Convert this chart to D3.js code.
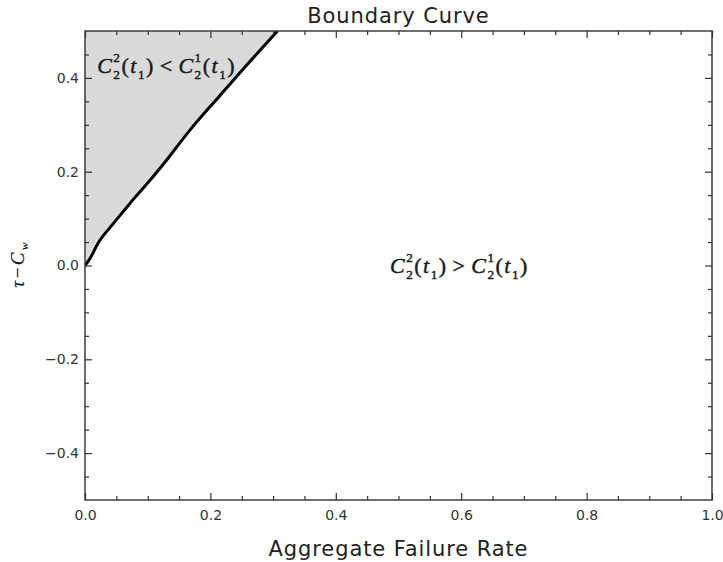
<!DOCTYPE html>
<html>
<head>
<meta charset="utf-8">
<script src="https://cdn.jsdelivr.net/npm/d3@7"></script>
<style>
  body { margin: 0; background: #fff; }
  svg { display: block; }
  .tick text { font-family: "DejaVu Sans", sans-serif; font-size: 14px; fill: #333; }
  .label { font-family: "DejaVu Sans", sans-serif; font-size: 21px; letter-spacing: 0.9px; fill: #222; }
</style>
</head>
<body>
<script>
// boundary curve (aggregate failure rate -> tau - c_w)
const curveX = [0, 0.008, 0.021, 0.043, 0.061, 0.077, 0.098, 0.120, 0.135, 0.167, 0.215, 0.263, 0.307]
const curveY = [0, 0.015, 0.048, 0.086, 0.115, 0.141, 0.173, 0.208, 0.233, 0.288, 0.362, 0.435, 0.500]

const xTicks = [0, 0.2, 0.4, 0.6, 0.8, 1.0]
const yTicks = [-0.4, -0.2, 0, 0.2, 0.4]
const xDomain = [0, 1]
const yDomain = [-0.5, 0.5]

const title = 'Boundary Curve'
const xLabel = 'Aggregate Failure Rate'

// formula pieces: plain/italic glyphs, stacked super/subscripts
const regionAbove = [
  { t: 'C', i: true }, { sup: '2', sub: '2' }, { t: '(' }, { t: 't', i: true }, { sub: '1' }, { t: ')' },
  { t: '<', pad: true },
  { t: 'C', i: true }, { sup: '1', sub: '2' }, { t: '(' }, { t: 't', i: true }, { sub: '1' }, { t: ')' }
]
const regionBelow = [
  { t: 'C', i: true }, { sup: '2', sub: '2' }, { t: '(' }, { t: 't', i: true }, { sub: '1' }, { t: ')' },
  { t: '>', pad: true },
  { t: 'C', i: true }, { sup: '1', sub: '2' }, { t: '(' }, { t: 't', i: true }, { sub: '1' }, { t: ')' }
]
const yLabel = [{ t: 'τ', i: true }, { t: '−' }, { t: 'C', i: true }, { sub: 'w', i: true }]

const width = 723, height = 562
const margin = { top: 31, right: 11, bottom: 62, left: 85 }
const w = width - margin.left - margin.right
const h = height - margin.top - margin.bottom

const svg = d3.select('body').append('svg')
    .attr('width', width)
    .attr('height', height)

const g = svg.append('g')
    .attr('transform', 'translate(' + margin.left + ',' + margin.top + ')')

const x = d3.scaleLinear().domain(xDomain).range([0, w])
const y = d3.scaleLinear().domain(yDomain).range([h, 0])

const points = curveX.map((v, i) => ({ x: v, y: curveY[i] }))

svg.append('defs').append('clipPath').attr('id', 'plot')
  .append('rect').attr('width', w).attr('height', h)

// shaded region between the y axis and the curve
const area = d3.area()
    .curve(d3.curveMonotoneY)
    .y(d => y(d.y))
    .x0(x(0))
    .x1(d => x(d.x))

g.append('path')
    .datum(points)
    .attr('fill', '#dadada')
    .attr('d', area)

const line = d3.line()
    .curve(d3.curveMonotoneX)
    .x(d => x(d.x))
    .y(d => y(d.y))

g.append('path')
    .datum(points)
    .attr('clip-path', 'url(#plot)')
    .attr('fill', 'none')
    .attr('stroke', '#000')
    .attr('stroke-width', 3)
    .attr('stroke-linejoin', 'round')
    .attr('d', line)

// frame ticks, pointing inward on all four sides
const isMajor = (ticks) => v => ticks.some(t => Math.abs(t - v) < 1e-9)
const minorX = d3.range(0, 1.0001, 0.05).filter(v => !isMajor(xTicks)(v))
const minorY = d3.range(-0.5, 0.5001, 0.05).filter(v => !isMajor(yTicks)(v) && Math.abs(Math.abs(v) - 0.5) > 1e-9)
const fmt = d3.format('.1f')

function tidy(sel) {
  sel.select('.domain').remove()
  sel.selectAll('line').attr('stroke', '#333').attr('stroke-width', 1.2)
}

g.append('g').attr('transform', 'translate(0,' + h + ')')
    .call(d3.axisBottom(x).tickValues(xTicks).tickSize(-7).tickPadding(10).tickFormat(fmt)).call(tidy)
g.append('g').attr('transform', 'translate(0,' + h + ')')
    .call(d3.axisBottom(x).tickValues(minorX).tickSize(-4).tickFormat('')).call(tidy)
g.append('g')
    .call(d3.axisTop(x).tickValues(xTicks).tickSize(-7).tickFormat('')).call(tidy)
g.append('g')
    .call(d3.axisTop(x).tickValues(minorX).tickSize(-4).tickFormat('')).call(tidy)

g.append('g')
    .call(d3.axisLeft(y).tickValues(yTicks).tickSize(-7).tickPadding(6).tickFormat(fmt)).call(tidy)
g.append('g')
    .call(d3.axisLeft(y).tickValues(minorY).tickSize(-4).tickFormat('')).call(tidy)
g.append('g').attr('transform', 'translate(' + w + ',0)')
    .call(d3.axisRight(y).tickValues(yTicks).tickSize(-7).tickFormat('')).call(tidy)
g.append('g').attr('transform', 'translate(' + w + ',0)')
    .call(d3.axisRight(y).tickValues(minorY).tickSize(-4).tickFormat('')).call(tidy)

g.append('rect')
    .attr('width', w)
    .attr('height', h)
    .attr('fill', 'none')
    .attr('stroke', '#333')
    .attr('stroke-width', 1.4)

g.append('text')
    .attr('class', 'label')
    .attr('x', w / 2)
    .attr('y', -8)
    .attr('text-anchor', 'middle')
    .text(title)

g.append('text')
    .attr('class', 'label')
    .attr('x', w / 2)
    .attr('y', h + 56)
    .attr('text-anchor', 'middle')
    .text(xLabel)

// lays out a little math expression from its baseline at 0,0, returns the group and its width
function formula(parent, parts, size, gap) {
  const f = parent.append('g')
      .attr('font-family', '"Liberation Serif", "Times New Roman", serif')
      .attr('fill', '#1a1a1a')
      .attr('stroke', '#1a1a1a')
      .attr('stroke-width', 0.45)
  const small = size * 0.6
  let cx = 0
  parts.forEach(p => {
    if (p.t === undefined) {
      let wmax = 0
      if (p.sup) {
        const t = f.append('text').attr('x', cx).attr('y', -size * 0.5)
            .attr('font-size', small).attr('font-style', p.i ? 'italic' : null).text(p.sup)
        wmax = Math.max(wmax, t.node().getComputedTextLength())
      }
      if (p.sub) {
        const t = f.append('text').attr('x', cx).attr('y', size * 0.25)
            .attr('font-size', small).attr('font-style', p.i ? 'italic' : null).text(p.sub)
        wmax = Math.max(wmax, t.node().getComputedTextLength())
      }
      cx += wmax + gap
    } else {
      if (p.pad) cx += size * 0.22
      const t = f.append('text').attr('x', cx).attr('y', 0)
          .attr('font-size', size).attr('font-style', p.i ? 'italic' : null).text(p.t)
      cx += t.node().getComputedTextLength() + gap
      if (p.pad) cx += size * 0.22
    }
  })
  return { g: f, width: cx - gap }
}

const fa = formula(g, regionAbove, 22, 1.5)
fa.g.attr('transform', 'translate(' + (x(0.129) - fa.width / 2) + ',' + y(0.41) + ')')

const fb = formula(g, regionBelow, 22, 1.5)
fb.g.attr('transform', 'translate(' + (x(0.596) - fb.width / 2) + ',' + y(-0.016) + ')')

const fy = formula(svg, yLabel, 19, 2.5)
fy.g.attr('stroke-width', 0.2)
fy.g.attr('transform', 'translate(23.5,' + (265 + fy.width / 2) + ') rotate(-90)')
</script>
</body>
</html>
